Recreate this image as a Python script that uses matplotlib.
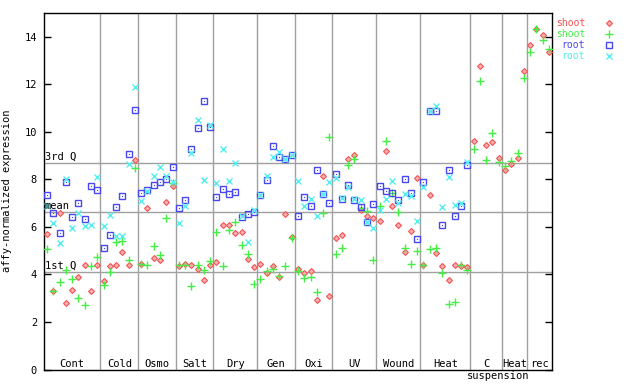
import matplotlib
matplotlib.use("Agg")
import matplotlib.pyplot as plt
import numpy as np

# experiment groups and number of samples in each
groups = ['Cont', 'Cold', 'Osmo', 'Salt', 'Dry', 'Gen', 'Oxi', 'UV', 'Wound',
          'Heat', 'C suspension', 'Heat', 'rec']
counts = [9, 6, 6, 6, 7, 6, 6, 7, 7, 8, 5, 4, 4]

# shoot, probe 1 (red diamonds)
shoot_a = [5.7, 3.3, 6.6, 2.79, 3.35, 3.89, 4.4, 3.31, 4.4,
           3.73, 4.37, 4.41, 4.94, 4.41, 8.82,
           4.45, 6.8, 4.7, 4.6, 7.05, 7.74,
           4.37, 4.45, 4.41, 4.23, 3.76, 4.41,
           4.52, 6.08, 6.08, 5.75, 5.79, 4.65, 4.31,
           4.44, 4.06, 4.37, 3.89, 6.55, 5.58,
           4.23, 4.06, 4.14, 2.92, 8.15, 3.09,
           5.53, 5.66, 8.87, 9.04, 6.7, 6.45, 6.37,
           6.25, 9.2, 6.87, 6.08, 4.93, 5.83, 8.07,
           4.39, 7.35, 4.9, 4.37, 3.76, 4.41, 4.37, 4.31,
           9.63, 12.75, 9.46, 9.58, 8.92,
           8.4, 8.66, 8.92, 12.54,
           13.67, 14.31, 14.06, 13.34]
# shoot, probe 2 (green plus)
shoot_b = [5.07, 3.31, 3.68, 4.18, 3.8, 3.0, 2.71, 4.35, 4.73,
           3.57, 4.1, 5.37, 5.41, 4.62, 8.49,
           4.45, 4.41, 5.21, 4.83, 6.39, 7.85,
           4.41, 4.41, 3.51, 4.41, 4.2, 4.58,
           5.8, 4.35, 5.87, 6.21, 5.24, 4.86, 3.59,
           3.8, 4.14, 4.23, 3.93, 4.35, 5.53,
           4.14, 3.85, 3.89, 3.26, 6.59, 9.8,
           4.86, 5.11, 8.62, 8.87, 6.8, 6.68, 4.6,
           6.87, 9.63, 7.43, 6.63, 5.11, 4.44, 4.98,
           4.41, 5.07, 5.11, 4.06, 2.75, 2.83, 4.39, 4.18,
           9.29, 12.12, 8.8, 9.93, 8.74,
           8.57, 8.78, 9.12, 12.28,
           13.38, 14.31, 13.85, 13.47]
# root, probe 1 (blue squares)
root_a = [7.35, 6.59, 5.75, 7.91, 6.42, 7.01, 6.34, 7.73, 7.56,
          5.13, 5.66, 6.84, 7.31, 9.08, 10.93,
          7.43, 7.56, 7.77, 7.87, 8.0, 8.53,
          6.8, 7.14, 9.29, 10.18, 11.3, 10.19,
          7.26, 7.6, 7.39, 7.48, 6.41, 6.55, 6.63,
          7.35, 7.98, 9.42, 8.95, 8.87, 9.04,
          6.46, 7.26, 6.88, 8.4, 7.39, 7.01,
          8.23, 7.18, 7.77, 7.14, 6.84, 6.2, 6.97,
          7.73, 7.52, 7.43, 7.14, 8.02, 7.43, 5.49,
          7.9, 10.89, 10.89, 6.08, 8.4, 6.46, 6.87, 8.61]
# root, probe 2 (cyan crosses)
root_b = [6.9, 6.17, 5.32, 8.0, 5.97, 6.59, 6.04, 6.08, 8.1,
          6.04, 6.5, 5.63, 5.63, 8.66, 11.9,
          7.1, 7.5, 8.15, 8.54, 8.14, 7.88,
          6.17, 6.9, 9.12, 10.49, 7.98, 10.27,
          7.85, 9.29, 7.94, 8.7, 6.45, 5.37, 6.72,
          7.35, 8.15, 8.95, 9.16, 8.87, 9.04,
          7.94, 6.88, 7.18, 6.46, 7.39, 7.9,
          8.07, 7.2, 7.69, 7.16, 7.14, 6.2, 5.96,
          6.73, 7.18, 7.94, 7.01, 7.39, 7.31, 6.25,
          7.69, 10.89, 11.1, 6.84, 8.11, 6.93, 7.01, 8.74]

# reference lines
q1, mean, q3 = 4.1, 6.63, 8.7

red = '#f25252'
green = '#44ee44'
blue = '#4848ee'
cyan = '#55eeee'
grey = '#a0a0a0'
mono = 'DejaVu Sans Mono'
fs = 7.5

n = len(shoot_a)
x_shoot = np.arange(n) + 0.5
x_root = np.arange(len(root_a)) + 0.5

fig = plt.figure(figsize=(6.4, 3.84), dpi=100)
ax = fig.add_axes([44 / 640, 1 - 369.5 / 384, 508 / 640, 356.5 / 384])

# group separators and quartile lines
bounds = np.cumsum(counts)
for b in bounds[:-1]:
    ax.axvline(b, color=grey, lw=1, zorder=1)
for v in (q1, mean, q3):
    ax.axhline(v, color=grey, lw=1, zorder=1)

ax.plot(x_shoot, shoot_a, ls='none', marker='D', ms=3.0, mfc='#ffb0b0',
        mec=red, mew=0.8, zorder=3)
ax.plot(x_shoot, shoot_b, ls='none', marker='+', ms=5.5, mec=green, mew=1, zorder=3)
ax.plot(x_root, root_a, ls='none', marker='s', ms=3.8, mfc='none', mec=blue,
        mew=1, zorder=4)
ax.plot(x_root, root_a, ls='none', marker='s', ms=0.8, mfc=blue, mec=blue,
        mew=0, zorder=4)
ax.plot(x_root, root_b, ls='none', marker='x', ms=4.0, mec=cyan, mew=1, zorder=4)

ax.set_xlim(0, n)
ax.set_ylim(0, 15)
ax.set_xticks([])
ax.set_yticks(range(0, 15, 2))
ax.tick_params(axis='y', direction='in', length=5, width=1, right=True,
               labelsize=fs, pad=5)
for lab in ax.get_yticklabels():
    lab.set_fontfamily(mono)
for s in ax.spines.values():
    s.set_linewidth(1)
ax.set_ylabel('affy-normalized expression', family=mono, fontsize=fs, labelpad=9)

# quartile texts
for v, t in ((q3, '3rd Q'), (mean, 'mean'), (q1, '1st Q')):
    ax.text(0.1, v + 0.05, t, family=mono, fontsize=fs, va='bottom', ha='left',
            zorder=5)

# group labels
starts = np.concatenate([[0], bounds[:-1]])
for g, s0, c in zip(groups, starts, counts):
    mid = s0 + c / 2
    if g == 'C suspension':
        ax.text(mid, 0.12, 'C', family=mono, fontsize=fs, ha='center', va='baseline')
        ax.text(s0 - 0.5, -0.42, 'suspension', family=mono, fontsize=fs,
                ha='left', va='baseline', clip_on=False)
    else:
        ax.text(mid, 0.12, g, family=mono, fontsize=fs, ha='center', va='baseline')

# legend outside on the right
leg = [('shoot', red, dict(marker='D', ms=3.0, mfc='#ffb0b0', mec=red, mew=0.8)),
       ('shoot', green, dict(marker='+', ms=5.5, mec=green, mew=1)),
       ('root', blue, dict(marker='s', ms=3.8, mfc='none', mec=blue, mew=1)),
       ('root', cyan, dict(marker='x', ms=4.0, mec=cyan, mew=1))]
for k, (t, col, kw) in enumerate(leg):
    ypix = 23.3 + 11 * k
    yax = (369.5 - ypix) / 356.5
    ax.text((585 - 44) / 508, yax, t, color=col, family=mono, fontsize=7,
            ha='right', va='center', transform=ax.transAxes, clip_on=False)
    ax.plot([(609 - 44) / 508], [yax], ls='none', transform=ax.transAxes,
            clip_on=False, **kw)

fig.savefig('out.png', dpi=100)
